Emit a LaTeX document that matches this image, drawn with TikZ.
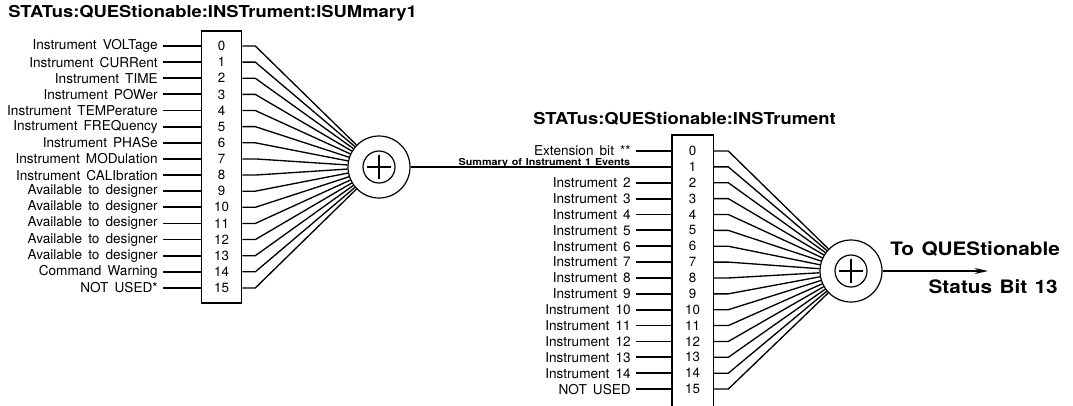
\documentclass[tikz,border=0pt]{standalone}
\usepackage{fontspec}
\setmainfont{TeX Gyre Heros}
\newfontfamily\widefam[FakeStretch=1.12]{TeX Gyre Heros}
\usetikzlibrary{arrows.meta}

\newcommand{\labfont}{\fontsize{10.2}{12}\selectfont\spaceskip=.45em}
\newcommand{\bitfont}{\fontsize{10}{12}\selectfont}
\newcommand{\headfont}{\widefam\fontsize{12.3}{14}\selectfont\bfseries}
\newcommand{\outfont}{\widefam\fontsize{13.9}{16}\selectfont\bfseries\spaceskip=.4em}

\tikzset{
  regbox/.style={minimum width=30pt,inner sep=0pt,line width=1.2pt},
  bitno/.style={font=\bitfont,inner sep=0pt},
  inlab/.style={font=\labfont,anchor=east,inner sep=0pt},
  feed/.style={line width=1.35pt},
  fan/.style={line width=1pt},
  sumnode/.style={circle,draw,line width=.9pt,minimum size=46.5pt,inner sep=0pt},
}

\begin{document}
\begin{tikzpicture}[x=.75pt,y=-.75pt]
\path[use as bounding box] (0,0) rectangle (1073,405);
% headings
\node[anchor=west,font=\headfont,inner sep=0pt] (head1) at (8,13) {STATus:QUEStionable:INSTrument:ISUMmary1};
\node[anchor=west,font=\headfont,inner sep=0pt] (head2) at (533,119) {STATus:QUEStionable:INSTrument};

% ISUMmary1 register
\node[regbox,draw,minimum height=204pt] (isum) at (221.5,167) {};
\foreach \i/\txt in {0/Instrument VOLTage,1/Instrument CURRent,2/Instrument TIME,
    3/Instrument POWer,4/Instrument TEMPerature,5/Instrument FREQuency,
    6/Instrument PHASe,7/Instrument MODulation,8/Instrument CALIbration,
    9/Available to designer,10/Available to designer,11/Available to designer,
    12/Available to designer,13/Available to designer,14/Command Warning,
    15/NOT USED*} {
  \node[bitno] (isumb\i) at (221.5,46+16.13*\i) {\i};
  \node[inlab] (isuml\i) at (158,46+16.13*\i) {\txt};
  \draw[feed] ([xshift=3.5pt]isuml\i.east |- isumb\i) -- (isum.west |- isumb\i);
}
\node[sumnode] (sum1) at (379,167) {};
\foreach \i in {0,...,15}
  \draw[fan] (isum.east |- isumb\i) -- ++(13,0) -- (sum1);

% INSTrument register
\node[regbox,minimum height=201.75pt] (inst) at (692.5,270.5) {};
\draw[line width=1.2pt] (inst.south west) -- (inst.north west) -- (inst.north east) -- (inst.south east);
\foreach \i/\txt in {0/Extension bit **,2/Instrument 2,3/Instrument 3,4/Instrument 4,
    5/Instrument 5,6/Instrument 6,7/Instrument 7,8/Instrument 8,9/Instrument 9,
    10/Instrument 10,11/Instrument 11,12/Instrument 12,13/Instrument 13,
    14/Instrument 14,15/NOT USED} {
  \node[inlab] (instl\i) at (631,151+15.87*\i) {\txt};
}
\foreach \i in {0,...,15} {
  \node[bitno] (instb\i) at (692.5,151+15.87*\i) {\i};
}
\foreach \i in {0,2,3,4,5,6,7,8,9,10,11,12,13,14,15}
  \draw[feed] ([xshift=3.5pt]instl\i.east |- instb\i) -- (inst.west |- instb\i);

% ISUMmary1 summary into bit 1
\draw[feed] (sum1.east |- instb1) -- (inst.west |- instb1)
  node[pos=1,anchor=base east,font={\widefam\fontsize{7.2}{8}\selectfont\bfseries\spaceskip=.4em},inner sep=0pt,yshift=1.4pt,xshift=-30.5pt] (summ) {Summary of Instrument 1 Events};

\node[sumnode] (sum2) at (851,271) {};
\foreach \i in {0,...,15}
  \draw[fan] (inst.east |- instb\i) -- ++(15,0) -- (sum2);

% plus signs
\foreach \s in {sum1,sum2} {
  \draw[line width=.9pt] (\s.center) circle[radius=12pt];
  \draw[line width=.9pt] ([xshift=-9pt]\s.center) -- ([xshift=9pt]\s.center)
    ([yshift=-9pt]\s.center) -- ([yshift=9pt]\s.center);
}

% output
\coordinate (qbit) at (988,271);
\draw[line width=.9pt,-{Stealth[length=10pt,width=4.5pt]}] (sum2) -- (qbit);
\node[anchor=base west,font=\outfont,inner sep=0pt] (to1) at (890,255) {To QUEStionable};
\node[anchor=base east,font=\outfont,inner sep=0pt] (to2) at (1058,293) {Status Bit 13};
\end{tikzpicture}
\end{document}
